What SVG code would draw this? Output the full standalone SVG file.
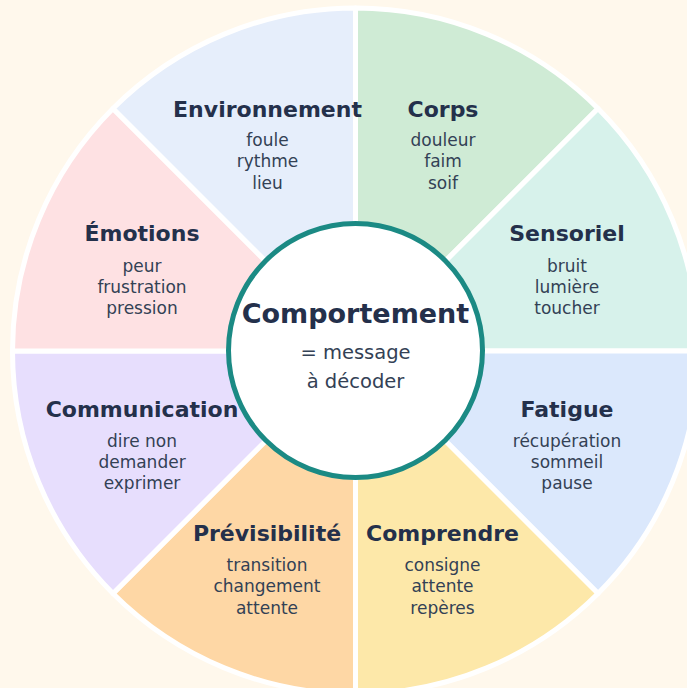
<svg xmlns="http://www.w3.org/2000/svg" width="687" height="688" viewBox="0 0 687 688">
<style>
.w{stroke:#ffffff;stroke-width:5;stroke-linejoin:round}
.t{font-family:"DejaVu Sans",Verdana,sans-serif;font-weight:bold;font-size:22px;fill:#24304b;text-anchor:middle}
.s{font-family:"DejaVu Sans",Verdana,sans-serif;font-size:17px;fill:#334155;text-anchor:middle}
.ct{font-family:"DejaVu Sans",Verdana,sans-serif;font-weight:bold;font-size:27px;fill:#24304b;text-anchor:middle}
.cs{font-family:"DejaVu Sans",Verdana,sans-serif;font-size:19.5px;fill:#334155;text-anchor:middle}
</style>
<rect width="687" height="688" fill="#fff8ec"/>
<g id="corps">
<path class="w" fill="#cfebd5" d="M355.5,351 L355.5,8 A343,343 0 0 1 598,108.5 Z"/>
<text class="t" x="443" y="116.5">Corps</text>
<text class="s" x="443" y="146">douleur</text>
<text class="s" x="443" y="167.3">faim</text>
<text class="s" x="443" y="188.6">soif</text>
</g>
<g id="sensoriel">
<path class="w" fill="#d7f2eb" d="M355.5,351 L598,108.5 A343,343 0 0 1 698.5,351 Z"/>
<text class="t" x="567" y="241">Sensoriel</text>
<text class="s" x="567" y="271.5">bruit</text>
<text class="s" x="567" y="292.8">lumière</text>
<text class="s" x="567" y="314">toucher</text>
</g>
<g id="fatigue">
<path class="w" fill="#dbe8fc" d="M355.5,351 L698.5,351 A343,343 0 0 1 598,593.5 Z"/>
<text class="t" x="567" y="417">Fatigue</text>
<text class="s" x="567" y="446.5">récupération</text>
<text class="s" x="567" y="467.8">sommeil</text>
<text class="s" x="567" y="489">pause</text>
</g>
<g id="comprendre">
<path class="w" fill="#fde8a9" d="M355.5,351 L598,593.5 A343,343 0 0 1 355.5,694 Z"/>
<text class="t" x="442.5" y="541">Comprendre</text>
<text class="s" x="442.5" y="571">consigne</text>
<text class="s" x="442.5" y="592.3">attente</text>
<text class="s" x="442.5" y="613.6">repères</text>
</g>
<g id="previsibilite">
<path class="w" fill="#fed7a5" d="M355.5,351 L355.5,694 A343,343 0 0 1 113,593.5 Z"/>
<text class="t" x="267" y="541">Prévisibilité</text>
<text class="s" x="267" y="571">transition</text>
<text class="s" x="267" y="592.3">changement</text>
<text class="s" x="267" y="613.6">attente</text>
</g>
<g id="communication">
<path class="w" fill="#e7defd" d="M355.5,351 L113,593.5 A343,343 0 0 1 12.5,351 Z"/>
<text class="t" x="142" y="417">Communication</text>
<text class="s" x="142" y="446.5">dire non</text>
<text class="s" x="142" y="467.8">demander</text>
<text class="s" x="142" y="489">exprimer</text>
</g>
<g id="emotions">
<path class="w" fill="#fee1e3" d="M355.5,351 L12.5,351 A343,343 0 0 1 113,108.5 Z"/>
<text class="t" x="142" y="241">Émotions</text>
<text class="s" x="142" y="271.5">peur</text>
<text class="s" x="142" y="292.8">frustration</text>
<text class="s" x="142" y="314">pression</text>
</g>
<g id="environnement">
<path class="w" fill="#e6eefb" d="M355.5,351 L113,108.5 A343,343 0 0 1 355.5,8 Z"/>
<text class="t" x="267.5" y="116.5">Environnement</text>
<text class="s" x="267.5" y="146">foule</text>
<text class="s" x="267.5" y="167.3">rythme</text>
<text class="s" x="267.5" y="188.6">lieu</text>
</g>
<g id="connectors"></g>
<g id="comportement">
<circle cx="355.5" cy="350.5" r="127" fill="#ffffff" stroke="#1b8a84" stroke-width="5"/>
<text class="ct" x="355.5" y="323">Comportement</text>
<text class="cs" x="355.5" y="359">= message</text>
<text class="cs" x="355.5" y="388">à décoder</text>
</g>
</svg>
